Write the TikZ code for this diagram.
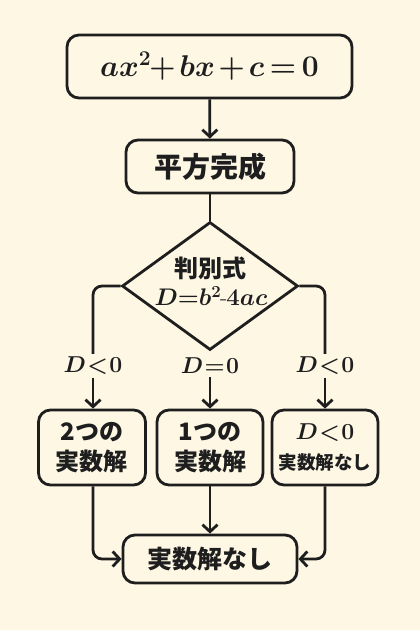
\RequirePackage{fix-cm}
\documentclass[tikz,border=0pt]{standalone}
\usepackage{fontspec}
\newfontfamily\cjk{Noto Sans CJK JP}
\usetikzlibrary{arrows.meta,shapes.geometric}
\definecolor{bg}{HTML}{FDF7E4}
\definecolor{ink}{HTML}{1E1E1E}
\newcommand{\rel}[1]{\mkern1mu{#1}\mkern1mu}
\tikzset{
  box/.style={draw=ink, line width=2.8pt, rounded corners=12pt, fill=bg, inner sep=0pt, align=center, text=ink},
  conn/.style={draw=ink, line width=2.8pt},
  arr/.style={conn, -{Straight Barb[length=7pt,width=15pt,line width=2.8pt]}},
  lbl/.style={inner sep=3pt, text=ink, font=\fontsize{23}{28}\selectfont\boldmath},
  jp/.style={font=\cjk\bfseries\fontsize{24}{30}\selectfont},
}
\begin{document}
\begin{tikzpicture}[x=1pt,y=-1pt]
\useasboundingbox[fill=bg] (0,0) rectangle (420,630);
% nodes
\node[box, minimum width=285pt, minimum height=63pt, font=\fontsize{30}{36}\selectfont\boldmath] (top) at (209.5,66.5) {$ax^{2}\!\mkern-2mu+\mkern-2mu bx\mkern-2mu+\mkern-2mu c\mkern-2mu=\mkern-2mu 0$};
\node[box, minimum width=168pt, minimum height=53pt, font=\cjk\bfseries\fontsize{28}{32}\selectfont] (sq) at (210,166.5) {平方完成};
\node[diamond, draw=ink, line width=2.8pt, minimum width=176pt, minimum height=128pt, inner sep=0pt] (dia) at (210,286) {};
\node[jp, inner sep=0pt, text=ink] (dt1) at (210,268) {判別式};
\node[inner sep=0pt, text=ink, font=\fontsize{24}{28}\selectfont\boldmath] (dt2) at (211,296) {$D{=}b^{2}$\kern-1pt-\kern-1pt$4ac$};
\node[lbl] (lL) at (93,366) {$D\rel{<}0$};
\node[lbl] (lM) at (210,366) {$D\rel{=}0$};
\node[lbl] (lR) at (325,366) {$D\rel{<}0$};
\node[box, jp, minimum width=107pt, minimum height=75pt] (b1) at (92,447.5) {2つの\\実数解};
\node[box, jp, minimum width=106pt, minimum height=75pt] (b2) at (210,447.5) {1つの\\実数解};
\node[box, minimum width=106pt, minimum height=75pt, font=\fontsize{23}{30}\selectfont\boldmath] (b3) at (325,447.5) {$D\rel{<}0$\\{\cjk\bfseries\fontsize{18.5}{24}\selectfont 実数解なし}};
\node[box, minimum width=174pt, minimum height=48pt, font=\cjk\bfseries\fontsize{25}{30}\selectfont] (fin) at (210,559) {実数解なし};
% connectors
\draw[arr] (top) -- (sq);
\draw[conn] (sq) -- (dia.north);
\draw[conn, rounded corners=9pt] (dia.west) -| (lL.north);
\draw[conn, rounded corners=9pt] (dia.east) -| (lR.north);
\draw[arr] (lL.south) -- (b1.north -| lL.south);
\draw[arr] (lM.south) -- (b2.north);
\draw[arr] (lR.south) -- (b3.north);
\draw[arr, rounded corners=9pt] (b1.south -| lL.south) |- (fin.west);
\draw[arr] (b2) -- (fin);
\draw[arr, rounded corners=9pt] (b3.south) |- (fin.east);
\end{tikzpicture}
\end{document}
